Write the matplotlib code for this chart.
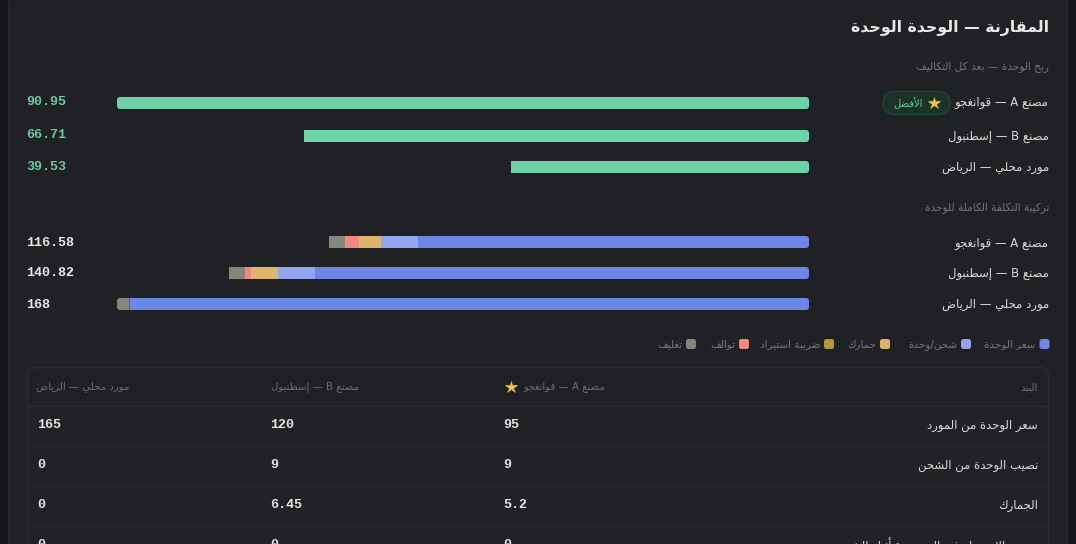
import matplotlib
matplotlib.use("Agg")
import matplotlib.pyplot as plt
from matplotlib.patches import FancyBboxPatch, Rectangle
from matplotlib.path import Path
from matplotlib.transforms import IdentityTransform

# ---------- data ----------
TITLE = "المقارنة — الوحدة الوحدة"
PROFIT_HEAD = "ربح الوحدة — بعد كل التكاليف"
COST_HEAD = "تركيبة التكلفة الكاملة للوحدة"
BEST_BADGE = "الأفضل"
suppliers = ["مصنع A — قوانغجو", "مصنع B — إسطنبول", "مورد محلي — الرياض"]
profit = [90.95, 66.4, 39.2]
unit_price = [95, 120, 165]
shipping = [9, 9, 0]
customs = [5.2, 6.45, 0]
import_tax = [0, 0, 0]
damages = [3.38, 1.37, 0]
packaging = [4, 4, 3]
totals = ["116.58", "140.82", "168"]
profit_labels = ["90.95", "66.71", "39.53"]
legend_names = ["سعر الوحدة", "شحن/وحدة", "جمارك", "ضريبة استيراد", "توالف", "تغليف"]
legend_colors = ["#6b86e4", "#92a6f0", "#dcb46a", "#b8983c", "#f08a7e", "#85857a"]
table_head = ["البند", "مصنع A — قوانغجو", "مصنع B — إسطنبول", "مورد محلي — الرياض"]
row_names = ["سعر الوحدة من المورد", "نصيب الوحدة من الشحن", "الجمارك", "ضريبة الاستيراد غير المستردة أثناء الشحن"]
col_a = ["95", "9", "5.2", "0"]
col_b = ["120", "9", "6.45", "0"]
col_c = ["165", "0", "0", "0"]

# ---------- Arabic shaping (matplotlib has no shaper) ----------
FORMS = {  # isolated, final, initial, medial
 'ء':'\uFE80','آ':'\uFE81\uFE82','أ':'\uFE83\uFE84','ؤ':'\uFE85\uFE86','إ':'\uFE87\uFE88',
 'ا':'\uFE8D\uFE8E','ب':'\uFE8F\uFE90\uFE91\uFE92','ة':'\uFE93\uFE94','ت':'\uFE95\uFE96\uFE97\uFE98',
 'ث':'\uFE99\uFE9A\uFE9B\uFE9C','ج':'\uFE9D\uFE9E\uFE9F\uFEA0','ح':'\uFEA1\uFEA2\uFEA3\uFEA4',
 'خ':'\uFEA5\uFEA6\uFEA7\uFEA8','د':'\uFEA9\uFEAA','ذ':'\uFEAB\uFEAC','ر':'\uFEAD\uFEAE','ز':'\uFEAF\uFEB0',
 'س':'\uFEB1\uFEB2\uFEB3\uFEB4','ش':'\uFEB5\uFEB6\uFEB7\uFEB8','ص':'\uFEB9\uFEBA\uFEBB\uFEBC',
 'ض':'\uFEBD\uFEBE\uFEBF\uFEC0','ط':'\uFEC1\uFEC2\uFEC3\uFEC4','ظ':'\uFEC5\uFEC6\uFEC7\uFEC8',
 'ع':'\uFEC9\uFECA\uFECB\uFECC','غ':'\uFECD\uFECE\uFECF\uFED0','ف':'\uFED1\uFED2\uFED3\uFED4',
 'ق':'\uFED5\uFED6\uFED7\uFED8','ك':'\uFED9\uFEDA\uFEDB\uFEDC','ل':'\uFEDD\uFEDE\uFEDF\uFEE0',
 'م':'\uFEE1\uFEE2\uFEE3\uFEE4','ن':'\uFEE5\uFEE6\uFEE7\uFEE8','ه':'\uFEE9\uFEEA\uFEEB\uFEEC',
 'و':'\uFEED\uFEEE','ى':'\uFEEF\uFEF0','ي':'\uFEF1\uFEF2\uFEF3\uFEF4'}
LAM_ALEF = {'آ':'\uFEF5\uFEF6','أ':'\uFEF7\uFEF8','إ':'\uFEF9\uFEFA','ا':'\uFEFB\uFEFC'}

def shape(s):
    chars = []
    i = 0
    while i < len(s):
        if s[i] == 'ل' and i + 1 < len(s) and s[i + 1] in LAM_ALEF:
            chars.append(('LA', s[i + 1]))
            i += 2
        else:
            chars.append(('C', s[i]))
            i += 1
    def joins_next(c):
        return c[0] == 'C' and c[1] in FORMS and len(FORMS[c[1]]) == 4
    def is_ar(c):
        return c[0] == 'LA' or c[1] in FORMS
    out = []
    for k, c in enumerate(chars):
        prev = chars[k - 1] if k else None
        nxt = chars[k + 1] if k + 1 < len(chars) else None
        jp = prev is not None and joins_next(prev) and is_ar(c)
        if c[0] == 'LA':
            out.append(LAM_ALEF[c[1]][1 if jp else 0])
        elif c[1] in FORMS:
            f = FORMS[c[1]]
            jn = len(f) == 4 and nxt is not None and is_ar(nxt)
            if len(f) == 1:
                out.append(f)
            elif jp and jn:
                out.append(f[3])
            elif jp:
                out.append(f[1])
            elif jn:
                out.append(f[2])
            else:
                out.append(f[0])
        else:
            out.append(c[1])
    # visual order: reverse, keeping latin letter runs intact
    res, run = [], []
    for ch in reversed(out):
        if ch.isascii() and ch.isalnum():
            run.insert(0, ch)
        else:
            if run:
                res.extend(run); run = []
            res.append(ch)
    res.extend(run)
    return "".join(res)

# ---------- figure ----------
W, H = 1076, 544
fig = plt.figure(figsize=(W / 100, H / 100), dpi=100, facecolor="#15161a")
bg = fig.add_axes([0, 0, 1, 1])
bg.set_xlim(0, W); bg.set_ylim(H, 0); bg.axis("off")

CARD, LINE = "#1f2125", "#2a2c31"
bg.add_patch(FancyBboxPatch((9, -8), 1058, 600, boxstyle="round,pad=0,rounding_size=12",
                            fc=CARD, ec=LINE, lw=1))
AR = ["DejaVu Sans"]
MONO = ["Liberation Mono", "DejaVu Sans Mono"]

def ar(x, y, s, size, color, ha="right", weight="normal", va="center"):
    return bg.text(x, y, shape(s), fontsize=size, color=color, ha=ha, va=va,
                   family=AR, fontweight=weight)

def mono(x, y, s, color, size=9.6, weight="bold"):
    return bg.text(x, y, s, fontsize=size, color=color, ha="left", va="center",
                   family=MONO, fontweight=weight)

ar(1049, 27.5, TITLE, 11.3, "#e8e8e4", weight="bold")
ar(1049, 67, PROFIT_HEAD, 7.6, "#727377")
ar(1049, 208, COST_HEAD, 7.6, "#727377")

# one axes per row: the x scale runs right-to-left over the pixel span of the track
def row_axes(center, xmax):
    top, bottom = center - 6, center + 6
    ax = fig.add_axes([117 / W, 1 - bottom / H, (809 - 117) / W, (bottom - top) / H])
    ax.set_xlim(xmax, 0)
    ax.set_ylim(-0.5, 0.5)
    ax.axis("off")
    ax.patch.set_alpha(0)
    return ax

def round_clip(bar, left=True, right=True, r=3.0):
    e = bar.get_window_extent()
    x0, x1, y0, y1 = e.x0, e.x1, e.y0, e.y1
    rl, rr = (r if left else 0), (r if right else 0)
    k = 0.45
    verts = [(x0 + rl, y0), (x1 - rr, y0), (x1 - rr * k, y0), (x1, y0 + rr * k), (x1, y0 + rr),
             (x1, y1 - rr), (x1, y1 - rr * k), (x1 - rr * k, y1), (x1 - rr, y1),
             (x0 + rl, y1), (x0 + rl * k, y1), (x0, y1 - rl * k), (x0, y1 - rl),
             (x0, y0 + rl), (x0, y0 + rl * k), (x0 + rl * k, y0), (x0 + rl, y0)]
    codes = [Path.MOVETO, Path.LINETO, Path.CURVE4, Path.CURVE4, Path.CURVE4,
             Path.LINETO, Path.CURVE4, Path.CURVE4, Path.CURVE4,
             Path.LINETO, Path.CURVE4, Path.CURVE4, Path.CURVE4,
             Path.LINETO, Path.CURVE4, Path.CURVE4, Path.CURVE4]
    bar.set_clip_path(Path(verts, codes), IdentityTransform())

# profit bars
for i, yc in enumerate([103, 136, 167]):
    ax = row_axes(yc, max(profit))
    b = ax.barh([0], [profit[i]], height=1, color="#6dd3a6", linewidth=0)[0]
    round_clip(b, left=(i == 0))

# cost bars
segments = [unit_price, shipping, customs, import_tax, damages, packaging]
seg_colors = legend_colors
for i, yc in enumerate([242, 273, 304]):
    ax = row_axes(yc, 168)
    start = 0
    for k, (vals, col) in enumerate(zip(segments, seg_colors)):
        b = ax.barh([0], [vals[i]], left=[start], height=1, color=col, linewidth=0)[0]
        start += vals[i]
        if k == 0:
            round_clip(b, left=False, right=True)
        if k == len(segments) - 1 and i == 2:
            round_clip(b, left=True, right=False)

# row labels + values
for i, y in enumerate([102.8, 136.5, 167.5]):
    ar(1049, y, suppliers[i], 8.4, "#d9d9d4")
for i, y in enumerate([102, 135.5, 167]):
    mono(26.5, y, profit_labels[i], "#6cc9a0", weight="bold")
for i, y in enumerate([243, 273.5, 304.5]):
    ar(1049, y, suppliers[i], 8.4, "#d9d9d4")
for i, y in enumerate([243, 273.5, 305]):
    mono(26.5, y, totals[i], "#e8e8e4", weight="bold")

# best badge
bg.add_patch(FancyBboxPatch((883, 91.5), 67, 23, boxstyle="round,pad=0,rounding_size=11.5",
                            fc="#1b3229", ec="#27493a", lw=0.8))
ar(922.5, 103, BEST_BADGE, 7.2, "#63c896")
bg.plot([933.5], [102.5], marker="*", ms=9, color="#f2c443", mec="#f2c443", mew=0.4, ls="none")

# legend
for name, col, x in zip(legend_names, legend_colors, [1044.5, 966, 885, 829, 744, 691]):
    bg.add_patch(FancyBboxPatch((x - 5, 339), 10, 10, boxstyle="round,pad=0,rounding_size=2.5",
                                fc=col, ec="none"))
    ar(x - 9, 347, name, 7.5, "#77787c", va="baseline")

# table
bg.add_patch(FancyBboxPatch((27.5, 367.5), 1021, 200, boxstyle="round,pad=0,rounding_size=8",
                            fc="#202226", ec=LINE, lw=1))
bg.add_patch(Rectangle((29, 373), 1018, 32, fc="#1e2024", ec="none"))
for y in [405.5, 445.5, 485.5, 525.5]:
    bg.plot([28, 1048], [y, y], color=LINE, lw=1, solid_capstyle="butt")
ar(1038, 387, table_head[0], 7.25, "#6c6d71")
ar(605, 387, table_head[1], 7.25, "#6c6d71")
bg.plot([511], [386.5], marker="*", ms=9, color="#f2c443", mec="#f2c443", mew=0.4, ls="none")
ar(359, 387, table_head[2], 7.25, "#6c6d71")
ar(129, 387, table_head[3], 7.25, "#6c6d71")
for i, y in enumerate([425.5, 465.5, 505.5, 545.5]):
    ar(1038, y, row_names[i], 8.4, "#d9d9d4")
    mono(503.5, y, col_a[i], "#e4e4df")
    mono(270.5, y, col_b[i], "#e4e4df")
    mono(37.5, y, col_c[i], "#e4e4df")

fig.savefig("out.png", dpi=100, facecolor=fig.get_facecolor())
